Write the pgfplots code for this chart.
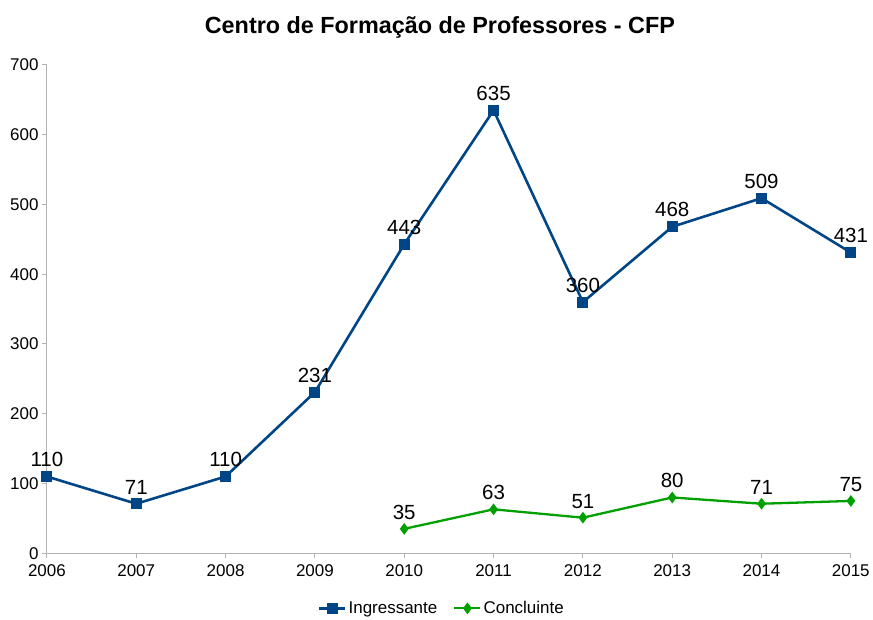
\documentclass[border=0pt]{standalone}
\usepackage{fontspec}
\setmainfont{Liberation Sans}
\usepackage{pgfplots}
\pgfplotsset{compat=1.18}
\definecolor{cfpblue}{HTML}{004586}
\definecolor{cfpgreen}{HTML}{00A000}
\definecolor{axgray}{HTML}{B3B3B3}

\begin{document}
\begin{tikzpicture}
\begin{axis}[
    scale only axis,
    width=805bp, height=489bp,
    xmin=2006, xmax=2015,
    ymin=0, ymax=700,
    xtick={2006,...,2015},
    ytick={0,100,...,700},
    /pgf/number format/assume math mode=true,
    /pgf/number format/1000 sep={},
    axis x line*=bottom, axis y line*=left,
    axis line style={axgray, line width=1bp, -},
    tick style={axgray, line width=1bp},
    tick align=outside,
    major tick length=5bp,
    ticklabel style={font=\fontsize{17bp}{20bp}\selectfont, text=black},
    xticklabel style={yshift=-3bp},
    clip=false,
    title={\bfseries Centro de Formação de Professores - CFP},
    title style={font=\fontsize{23.4bp}{27bp}\selectfont, yshift=17bp, xshift=-9bp},
    legend style={draw=none, at={(0.5,-0.09)}, anchor=north, xshift=-7bp,
        legend columns=-1, font=\fontsize{17bp}{20bp}\selectfont,
        /tikz/every even column/.append style={column sep=14bp}},
    legend image code/.code={
        \draw[#1, mark repeat=2, mark phase=2] plot coordinates {(0bp,0bp) (13bp,0bp) (26bp,0bp)};},
    nodes near coords,
    every node near coord/.append style={font=\fontsize{20.5bp}{24bp}\selectfont, text=black, anchor=south, yshift=5bp},
]
\addplot[cfpblue, line width=2.6bp, mark=square*, mark size=4.2bp] coordinates {
    (2006,110) (2007,71) (2008,110) (2009,231) (2010,443)
    (2011,635) (2012,360) (2013,468) (2014,509) (2015,431)
};
\addlegendentry{Ingressante}
\addplot[cfpgreen, line width=2.3bp, mark=diamond*, mark size=4bp] coordinates {
    (2010,35) (2011,63) (2012,51) (2013,80) (2014,71) (2015,75)
};
\addlegendentry{Concluinte}
\end{axis}
\path[use as bounding box] ([shift={(-47bp,-63bp)}]current axis.south west) rectangle ([shift={(21bp,65bp)}]current axis.north east);
\end{tikzpicture}
\end{document}
